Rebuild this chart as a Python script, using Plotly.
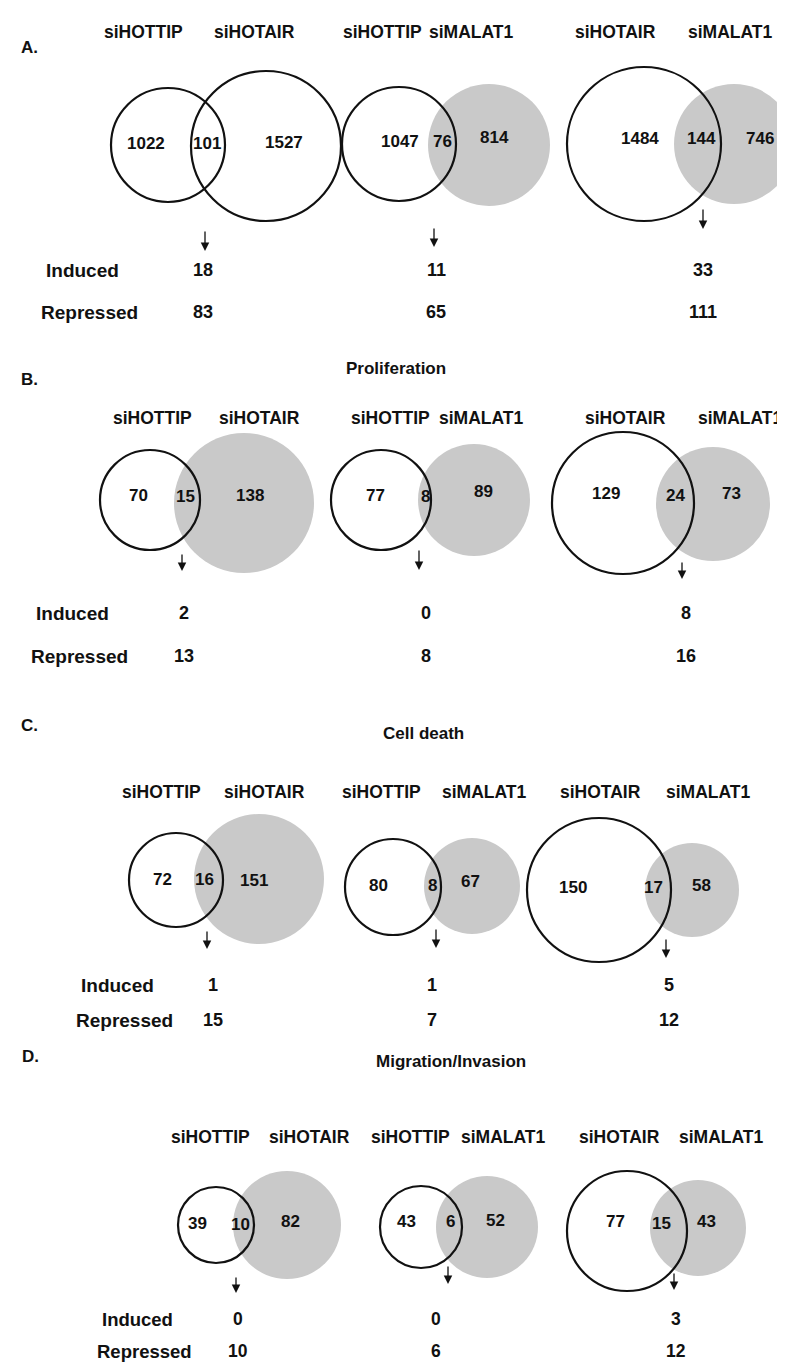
import plotly.graph_objects as go

# ---------------- data ----------------
panel_letters = ["A.", "B.", "C.", "D."]
panel_titles = ["", "Proliferation", "Cell death", "Migration/Invasion"]
left_names = ["siHOTTIP", "siHOTTIP", "siHOTAIR"]
right_names = ["siHOTAIR", "siMALAT1", "siMALAT1"]
only_left = [[1022, 1047, 1484], [70, 77, 129], [72, 80, 150], [39, 43, 77]]
overlap = [[101, 76, 144], [15, 8, 24], [16, 8, 17], [10, 6, 15]]
only_right = [[1527, 814, 746], [138, 89, 73], [151, 67, 58], [82, 52, 43]]
induced = [[18, 11, 33], [2, 0, 8], [1, 1, 5], [0, 0, 3]]
repressed = [[83, 65, 111], [13, 8, 16], [15, 7, 12], [10, 6, 12]]
row_names = ["Induced", "Repressed"]

# ---------------- layout geometry (pixels) ----------------
W, H = 785, 1363
# per panel: left circles (cx, cy, r), right circles (cx, cy, r, filled)
circ_left = [
    [(160, 137, 57), (391, 136, 57), (636, 136, 77)],
    [(142, 492, 50), (373, 492, 50), (615, 495, 71)],
    [(168, 872, 47), (385, 879, 48), (591, 882, 72)],
    [(208, 1217, 38), (413, 1219, 41), (619, 1223, 60)],
]
circ_right = [
    [(258, 138, 75, False), (481, 137, 61, True), (726, 136, 60, True)],
    [(236, 495, 70, True), (466, 492, 56, True), (705, 496, 57, True)],
    [(251, 871, 65, True), (464, 878, 48, True), (684, 882, 47, True)],
    [(279, 1217, 54, True), (479, 1219, 51, True), (690, 1220, 48, True)],
]
name_y = [24, 410, 784, 1129]
name_x = [[(135, 246), (374, 463), (607, 722)],
          [(144, 251), (382, 473), (617, 732)],
          [(153, 256), (373, 476), (592, 700)],
          [(202, 301), (402, 495), (611, 713)]]
num_pos = [
    [[(138, 135), (199, 135), (276, 134)], [(392, 133), (434, 133), (486, 129)], [(632, 130), (693, 130), (752, 130)]],
    [[(130, 487), (177, 488), (242, 487)], [(367, 487), (417, 488), (475, 483)], [(598, 485), (667, 487), (723, 485)]],
    [[(154, 871), (196, 871), (246, 872)], [(370, 877), (424, 877), (462, 873)], [(565, 879), (645, 879), (693, 877)]],
    [[(189, 1215), (232, 1216), (282, 1213)], [(398, 1213), (442, 1213), (487, 1212)], [(607, 1213), (653, 1215), (698, 1213)]],
]
arrows = [
    [(197, 222, 243), (426, 219, 239), (695, 200, 221)],
    [(174, 545, 563), (411, 541, 562), (674, 553, 571)],
    [(199, 922, 941), (428, 920, 940), (658, 930, 950)],
    [(228, 1268, 1285), (440, 1257, 1276), (666, 1264, 1282)],
]
row_y = [(262, 304), (605, 648), (977, 1012), (1311, 1343)]
row_font = [19, 19, 19, 18.5]
row_label_x = [(37, 32), (27, 22), (72, 67), (93, 88)]
val_x = [[195, 428, 695], [176, 418, 678], [205, 424, 661], [230, 428, 668]]
letter_pos = [(12, 39), (12, 371), (12, 717), (13, 1048)]
title_pos = [(0, 0), (388, 360), (415, 725), (443, 1053)]

FONT = "Liberation Sans, Arial, sans-serif"
TXT = "#111111"
GRAY = "#c9c9c9"

fig = go.Figure()
shapes = []
ann = []


def text(x, y, s, size, xanchor="center"):
    ann.append(dict(x=x, y=y, xref="x", yref="y", text="<b>%s</b>" % s, showarrow=False,
                    xanchor=xanchor, yanchor="middle", borderpad=0,
                    font=dict(family=FONT, size=size, color=TXT)))


for p in range(4):
    # filled circles first
    for j in range(3):
        cx, cy, r, filled = circ_right[p][j]
        if filled:
            shapes.append(dict(type="circle", xref="x", yref="y", x0=cx - r, x1=cx + r,
                               y0=cy - r, y1=cy + r, fillcolor=GRAY, line=dict(width=0),
                               layer="below"))
    for j in range(3):
        cx, cy, r, filled = circ_right[p][j]
        if not filled:
            shapes.append(dict(type="circle", xref="x", yref="y", x0=cx - r, x1=cx + r,
                               y0=cy - r, y1=cy + r, line=dict(color="#111111", width=2.2)))
        cx, cy, r = circ_left[p][j]
        shapes.append(dict(type="circle", xref="x", yref="y", x0=cx - r, x1=cx + r,
                           y0=cy - r, y1=cy + r, line=dict(color="#111111", width=2.2)))
    # letters & titles
    lx, ly = letter_pos[p]
    text(lx, ly, panel_letters[p], 17, "left")
    if panel_titles[p]:
        tx, ty = title_pos[p]
        text(tx, ty, panel_titles[p], 17)
    for j in range(3):
        xl, xr = name_x[p][j]
        text(xl, name_y[p], left_names[j], 17.5)
        text(xr, name_y[p], right_names[j], 17.5)
        vals = [only_left[p][j], overlap[p][j], only_right[p][j]]
        for (nx, ny), v in zip(num_pos[p][j], vals):
            text(nx, ny, v, 17)
        ax_, y0, y1 = arrows[p][j]
        ann.append(dict(x=ax_, y=y1, ax=ax_, ay=y0, xref="x", yref="y", axref="x", ayref="y",
                        text="", showarrow=True, arrowhead=2, arrowsize=1.3, arrowwidth=1.3,
                        arrowcolor="#111111", standoff=0))
        text(val_x[p][j], row_y[p][0], induced[p][j], row_font[p] - 1)
        text(val_x[p][j], row_y[p][1], repressed[p][j], row_font[p] - 1)
    text(row_label_x[p][0], row_y[p][0], row_names[0], row_font[p], "left")
    text(row_label_x[p][1], row_y[p][1], row_names[1], row_font[p], "left")

fig.update_layout(
    width=W, height=H, margin=dict(l=0, r=0, t=0, b=0),
    paper_bgcolor="white", plot_bgcolor="white",
    xaxis=dict(range=[0, W], visible=False, fixedrange=True),
    yaxis=dict(range=[H, 0], visible=False, fixedrange=True),
    shapes=shapes, annotations=ann, showlegend=False,
)
fig.write_html("out.html")
